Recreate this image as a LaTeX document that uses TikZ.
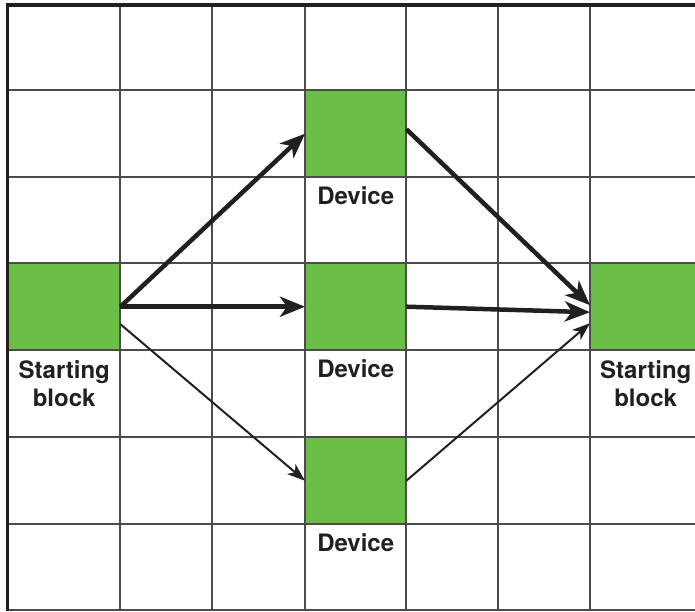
\documentclass[tikz,border=0pt]{standalone}
\usepackage{fontspec}
\setmainfont{TeX Gyre Heros}
\usetikzlibrary{arrows.meta}
\definecolor{blockgreen}{RGB}{106,189,69}
\definecolor{ink}{RGB}{35,31,32}
\definecolor{rulegray}{RGB}{75,75,75}
\begin{document}
\begin{tikzpicture}[x=1pt,y=-1pt,
  cellblock/.style={fill=blockgreen, draw=none, inner sep=0, anchor=north west,
                    minimum height=87pt},
  lbl/.style={anchor=north, inner sep=0, align=center, text=ink,
              font=\fontsize{24}{28}\selectfont\bfseries},
  gridline/.style={draw=rulegray, line width=1.3pt},
  thickarrow/.style={draw=ink, line width=4.5pt,
                     -{Stealth[length=25pt,width=20pt,inset=7pt]}},
  thinarrow/.style={draw=ink, line width=2pt,
                    -{Stealth[length=18pt,width=13pt,inset=5pt]}}]
  \useasboundingbox (0,0) rectangle (695,611);
  \fill[white] (0,0) rectangle (695,611);

  % green blocks
  \node[cellblock, minimum width=112pt] (L) at (8,263) {};
  \node[cellblock, minimum width=101pt] (T) at (305,90) {};
  \node[cellblock, minimum width=101pt] (M) at (305,263) {};
  \node[cellblock, minimum width=101pt] (B) at (305,437) {};
  \node[cellblock, minimum width=105pt] (R) at (590,263) {};

  % grid
  \foreach \gx in {120,212,305,406,498,590}
    \draw[gridline] (\gx,5) -- (\gx,610);
  \foreach \gy in {90,177,263,350,437,524,610}
    \draw[gridline] (8,\gy) -- (695,\gy);
  \draw[draw=ink, line width=3.2pt] (7.5,611) -- (7.5,5) -- (695,5);

  % labels
  \node[lbl] (lL) at ([yshift=-10pt]L.south) {Starting\\block};
  \node[lbl] (lT) at ([yshift=-9pt]T.south) {Device};
  \node[lbl] (lM) at ([yshift=-9pt]M.south) {Device};
  \node[lbl] (lB) at ([yshift=-9pt]B.south) {Device};
  \node[lbl] (lR) at ([yshift=-10pt,xshift=3pt]R.south) {Starting\\block};

  % connectors
  \draw[thickarrow] (L.east) -- (T.west);
  \draw[thickarrow] (L.east) -- (M.west);
  \draw[thinarrow] ([yshift=-17.5pt]L.east) -- (B.west);
  \draw[thickarrow] ([yshift=4.5pt]T.east) -- ([yshift=1.5pt]R.west);
  \draw[thickarrow] (M.east) -- ([yshift=-5.5pt]R.west);
  \draw[thinarrow] (B.east) -- ([yshift=-16.5pt]R.west);
\end{tikzpicture}
\end{document}
